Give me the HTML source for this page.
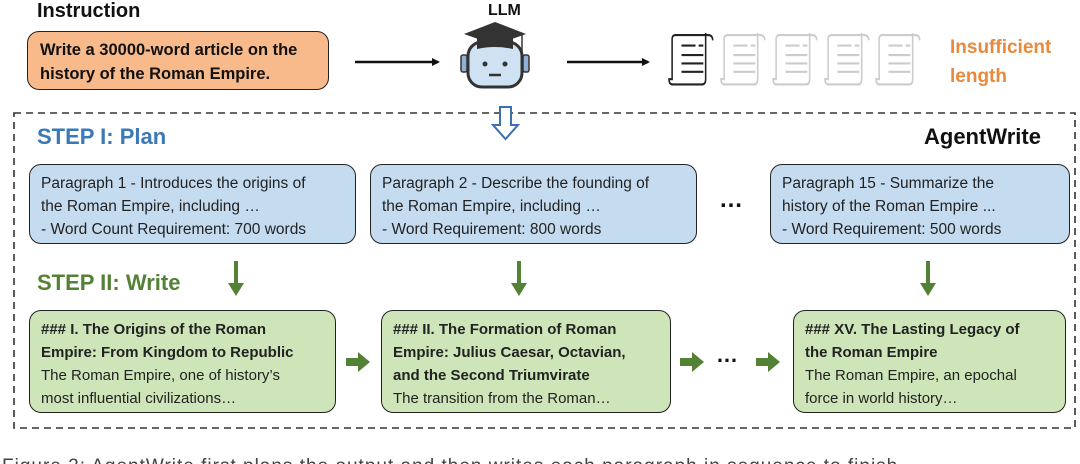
<!DOCTYPE html>
<html><head><meta charset="utf-8"><style>
html,body{margin:0;width:1080px;height:464px;overflow:hidden;}
body{background:#fff;position:relative;font-family:"Liberation Sans",sans-serif;}
.a{position:absolute;}
.box{position:absolute;border:1.6px solid #222;border-radius:12px;box-sizing:border-box;}
.blue{background:#c5dcf0;font-size:15.5px;line-height:23px;color:#222;padding:7px 0 0 11px;}
.green{background:#cde5b8;font-size:15px;line-height:23px;color:#222;padding:7px 0 0 11px;}
.green b{font-weight:bold;}
</style></head><body>
<div class="a" style="left:37px;top:0px;font-size:20px;font-weight:bold;color:#111">Instruction</div>
<div class="box" style="left:27px;top:31px;width:302px;height:59px;background:#f8ba8b;font-weight:bold;font-size:16.5px;line-height:24px;padding:6px 0 0 12px;color:#111">Write a 30000-word article on the<br>history of the Roman Empire.</div>
<div class="a" style="left:488px;top:2px;font-size:16px;font-weight:bold;color:#111">LLM</div>
<svg class="a" style="left:0;top:0" width="1080" height="464">
<defs>
<marker id="ah" markerWidth="8" markerHeight="8" refX="6" refY="4" orient="auto" markerUnits="userSpaceOnUse"><path d="M0,0 L8,4 L0,8z" fill="#111"/></marker>
<path id="sc" d="M8,2 h42 q6,0 6,5 M8,2 q-4,0 -4,4 v38 h-4 q0,5 5,5 h37 q5,0 5,-5 v-44 M16,12 h18 M38,12 h6 M16,21 h28 M16,29 h28 M16,37 h28"/>
</defs>
<line x1="355" y1="62" x2="438" y2="62" stroke="#111" stroke-width="2.5" marker-end="url(#ah)"/>
<line x1="567" y1="62" x2="648" y2="62" stroke="#111" stroke-width="2.5" marker-end="url(#ah)"/>
<g>
<rect x="468" y="42" width="54" height="45" rx="14" fill="#cfe2f3" stroke="#333" stroke-width="3"/>
<rect x="461" y="55" width="6" height="17" rx="2" fill="#8fb1d8" stroke="#333" stroke-width="1.5"/>
<rect x="523" y="55" width="6" height="17" rx="2" fill="#8fb1d8" stroke="#333" stroke-width="1.5"/>
<path d="M464,34 L495,22 L526,34 L495,45z" fill="#333"/>
<path d="M477,38 L477,49 Q495,45 513,49 L513,38z" fill="#333"/>
<line x1="522" y1="35" x2="522" y2="52" stroke="#333" stroke-width="1.5"/>
<circle cx="485" cy="64" r="2.5" fill="#333"/><circle cx="505" cy="64" r="2.5" fill="#333"/>
<line x1="489" y1="75" x2="501" y2="75" stroke="#333" stroke-width="2.5"/>
</g>
<g fill="none" stroke-width="2">
<use href="#sc" stroke="#222" transform="translate(669,33) scale(0.78,1.05)"/>
<use href="#sc" stroke="#ccc" transform="translate(721,33) scale(0.78,1.05)"/>
<use href="#sc" stroke="#ccc" transform="translate(773,33) scale(0.78,1.05)"/>
<use href="#sc" stroke="#ccc" transform="translate(825,33) scale(0.78,1.05)"/>
<use href="#sc" stroke="#ccc" transform="translate(876,33) scale(0.78,1.05)"/>
</g>
<rect x="14" y="113" width="1061" height="315" fill="none" stroke="#333" stroke-width="1.6" stroke-dasharray="7,5"/>
<path d="M500,107 h11 v18 h7 l-12.5,14 l-12.5,-14 h7z" fill="#fff" stroke="#3a6fb0" stroke-width="2"/>
<g fill="#538135" stroke="#538135">
<line x1="236" y1="261" x2="236" y2="285" stroke-width="4"/><path d="M228,283 L244,283 L236,296z" stroke="none"/>
<line x1="519" y1="261" x2="519" y2="285" stroke-width="4"/><path d="M511,283 L527,283 L519,296z" stroke="none"/>
<line x1="928" y1="261" x2="928" y2="285" stroke-width="4"/><path d="M920,283 L936,283 L928,296z" stroke="none"/>
<path d="M346,358 h12 v-6 l12,10 l-12,10 v-6 h-12z" stroke="none"/>
<path d="M680,358 h12 v-6 l12,10 l-12,10 v-6 h-12z" stroke="none"/>
<path d="M756,358 h12 v-6 l12,10 l-12,10 v-6 h-12z" stroke="none"/>
</g>
</svg>
<div class="a" style="left:950px;top:33px;font-size:19px;font-weight:bold;color:#e8893c;line-height:29px">Insufficient<br>length</div>
<div class="a" style="left:37px;top:124px;font-size:22px;font-weight:bold;color:#3b78b6">STEP I: Plan</div>
<div class="a" style="left:924px;top:124px;font-size:22px;font-weight:bold;color:#111">AgentWrite</div>
<div class="box blue" style="left:29px;top:164px;width:327px;height:80px">Paragraph 1 - Introduces the origins of<br>the Roman Empire, including …<br>- Word Count Requirement: 700 words</div>
<div class="box blue" style="left:370px;top:164px;width:327px;height:80px">Paragraph 2 - Describe the founding of<br>the Roman Empire, including …<br>- Word Requirement: 800 words</div>
<div class="a" style="left:719px;top:186px;font-size:24px;font-weight:bold;color:#111">…</div>
<div class="box blue" style="left:770px;top:164px;width:300px;height:80px">Paragraph 15 - Summarize the<br>history of the Roman Empire ...<br>- Word Requirement: 500 words</div>
<div class="a" style="left:37px;top:270px;font-size:22px;font-weight:bold;color:#538135">STEP II: Write</div>
<div class="box green" style="left:29px;top:310px;width:307px;height:103px"><b>### I. The Origins of the Roman<br>Empire: From Kingdom to Republic</b><br>The Roman Empire, one of history’s<br>most influential civilizations…</div>
<div class="box green" style="left:381px;top:310px;width:290px;height:103px"><b>### II. The Formation of Roman<br>Empire: Julius Caesar, Octavian,<br>and the Second Triumvirate</b><br>The transition from the Roman…</div>
<div class="a" style="left:716px;top:342px;font-size:22px;font-weight:bold;color:#111">…</div>
<div class="box green" style="left:793px;top:310px;width:273px;height:103px"><b>### XV. The Lasting Legacy of<br>the Roman Empire</b><br>The Roman Empire, an epochal<br>force in world history…</div>
<div class="a" style="left:0;top:458px;width:1080px;height:6px;overflow:hidden">
<div class="a" style="left:2px;top:-2px;font-size:19px;color:#444;white-space:nowrap;letter-spacing:1px;line-height:22px">Figure 2: AgentWrite first plans the output and then writes each paragraph in sequence to finish</div>
</div>
</body></html>
